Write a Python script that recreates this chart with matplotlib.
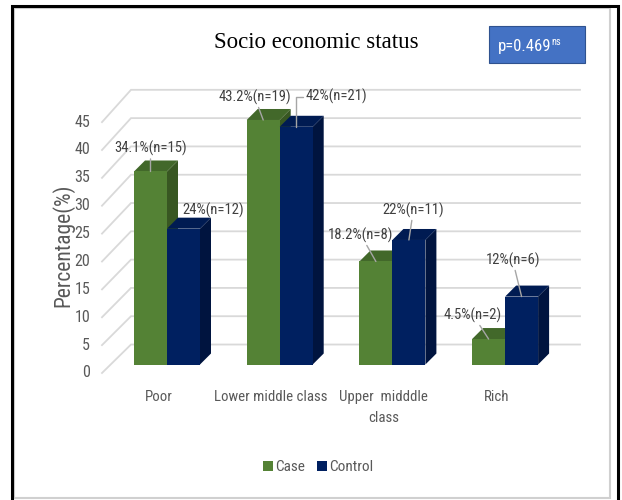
import matplotlib.pyplot as plt
from matplotlib.patches import Polygon, Rectangle, Patch

# data
categories = ['Poor', 'Lower middle class', 'Upper  midddle\nclass', 'Rich']
case_pct = [34.1, 43.2, 18.2, 4.5]
control_pct = [24, 42, 22, 12]
case_labels = ['34.1%(n=15)', '43.2%(n=19)', '18.2%(n=8)', '4.5%(n=2)']
control_labels = ['24%(n=12)', '42%(n=21)', '22%(n=11)', '12%(n=6)']
y_ticks = [0, 5, 10, 15, 20, 25, 30, 35, 40, 45]

# colours (front, top, side)
CASE_C = ('#548235', '#42682A', '#385722')
CTRL_C = ('#002060', '#001B52', '#00143F')
GRID = '#D9D9D9'
TXT = '#595959'
FONT = ['Roboto Condensed', 'Lato', 'DejaVu Sans']

# layout of the fake 3D projection, in pixels
W, H = 622, 500
X0, XSTEP = 167, 112.7      # pixel x of first category, pixels per category
Y0, YSTEP = 364.5, 5.66     # pixel y (from top) of value 0, pixels per percent
BAR_W = 33 / XSTEP
DX, DY = 11 / XSTEP, 11 / YSTEP          # bar depth
WALL_FX, WALL_BX = (102 - X0) / XSTEP, (131 - X0) / XSTEP
WALL_RX = (580 - X0) / XSTEP
WALL_FY, WALL_BY = -1.5, 3.53

fig = plt.figure(figsize=(W / 100, H / 100), dpi=100)
ax = fig.add_axes([0, 0, 1, 1])
ax.set_xlim(-X0 / XSTEP, (W - X0) / XSTEP)
ax.set_ylim((Y0 - H) / YSTEP, Y0 / YSTEP)
ax.axis('off')

# back wall + left wall gridlines
for v in y_ticks:
    fy = 0.985 * v + WALL_FY
    by = v + WALL_BY
    ax.plot([WALL_FX, WALL_BX, WALL_RX], [fy, by, by], color=GRID, lw=1.3, zorder=1,
            solid_joinstyle='miter')
    ax.text(WALL_FX - 12 / XSTEP, fy, str(v), ha='right', va='center',
            fontsize=11.5, color=TXT, family=FONT)


def bar3d(xl, h, cols):
    front, top, side = cols
    ax.add_patch(Polygon([(xl + BAR_W, 0), (xl + BAR_W + DX, DY), (xl + BAR_W + DX, h + DY),
                          (xl + BAR_W, h)], closed=True, fc=side, ec='none', zorder=3))
    ax.add_patch(Polygon([(xl, h), (xl + BAR_W, h), (xl + BAR_W + DX, h + DY), (xl + DX, h + DY)],
                         closed=True, fc=top, ec='none', zorder=3))
    ax.add_patch(Rectangle((xl, 0), BAR_W, h, fc=front, ec='none', zorder=3))


for i in range(len(categories)):
    bar3d(i - BAR_W, case_pct[i], CASE_C)
    bar3d(i, control_pct[i], CTRL_C)

# data labels: offsets in pixels from the front top edge of each bar
case_off = [(0, 23), (-8.5, 23), (-15, 26.5), (-15.5, 24)]
ctrl_off = [(29.5, 18), (40, 30), (4.5, 30), (-9, 36.6)]
ctrl_leader = [None, 'bracket', 'line', 'line']

lead = dict(arrowstyle='-', color='#A6A6A6', lw=1, shrinkA=0, shrinkB=0)
for i in range(len(categories)):
    ax.annotate(case_labels[i], xy=(i - BAR_W / 2, case_pct[i]), xytext=case_off[i],
                textcoords='offset pixels', ha='center', va='center', fontsize=10.5,
                color='#404040', family=FONT, arrowprops=lead, zorder=5)
    kw = {}
    if ctrl_leader[i] == 'line':
        kw['arrowprops'] = lead
    elif ctrl_leader[i] == 'bracket':
        kw['arrowprops'] = dict(lead, relpos=(0, 0.5),
                                connectionstyle='angle,angleA=180,angleB=90,rad=0')
    ax.annotate(control_labels[i], xy=(i + BAR_W / 2, control_pct[i]), xytext=ctrl_off[i],
                textcoords='offset pixels', ha='center', va='center', fontsize=10.5,
                color='#404040', family=FONT, zorder=5, **kw)

# category labels
for i, c in enumerate(categories):
    ax.text(i - 8.5 / XSTEP, (Y0 - 390) / YSTEP, c, ha='center', va='top', fontsize=10.7,
            color=TXT, family=FONT, linespacing=1.6)

# titles / annotations in figure space
fig.text(63 / W, 1 - 245 / H, 'Percentage(%)', rotation=90, ha='center', va='center',
         fontsize=15.5, color=TXT, family=FONT)
fig.text(316 / W, 1 - 43 / H, 'Socio economic status', ha='center', va='center',
         fontsize=16.5, family=['Liberation Serif', 'DejaVu Serif'], color='black')

fig.patches.append(Rectangle((489 / W, 1 - 63 / H), 96 / W, 37 / H, transform=fig.transFigure,
                             fc='#4472C4', ec='#2F528F', lw=0.8))
fig.text(551 / W, 1 - 47 / H, 'p=0.469', ha='right', va='center', fontsize=12,
         color='white', family=FONT)
fig.text(551 / W, 1 - 42 / H, 'ns', ha='left', va='center', fontsize=7.5,
         color='white', family=FONT)

# legend
handles = [Patch(fc=CASE_C[0]), Patch(fc=CTRL_C[0])]
fig.legend(handles, ['Case', 'Control'], loc='center', bbox_to_anchor=(318 / W, 1 - 467 / H),
           ncol=2, frameon=False, handlelength=0.65, handleheight=0.65, handletextpad=0.15,
           columnspacing=0.8, prop={'family': FONT, 'size': 11}, labelcolor=TXT)

# chart frames
fig.patches.append(Rectangle((14 / W, 2 / H), 596 / W, 490 / H, transform=fig.transFigure,
                             fill=False, ec='#D0D0D0', lw=1.5))
fig.patches.append(Rectangle((12 / W, -20 / H), 606 / W, 514 / H, transform=fig.transFigure,
                             fill=False, ec='black', lw=2.2))

fig.savefig('out.png', dpi=100, facecolor='white')
